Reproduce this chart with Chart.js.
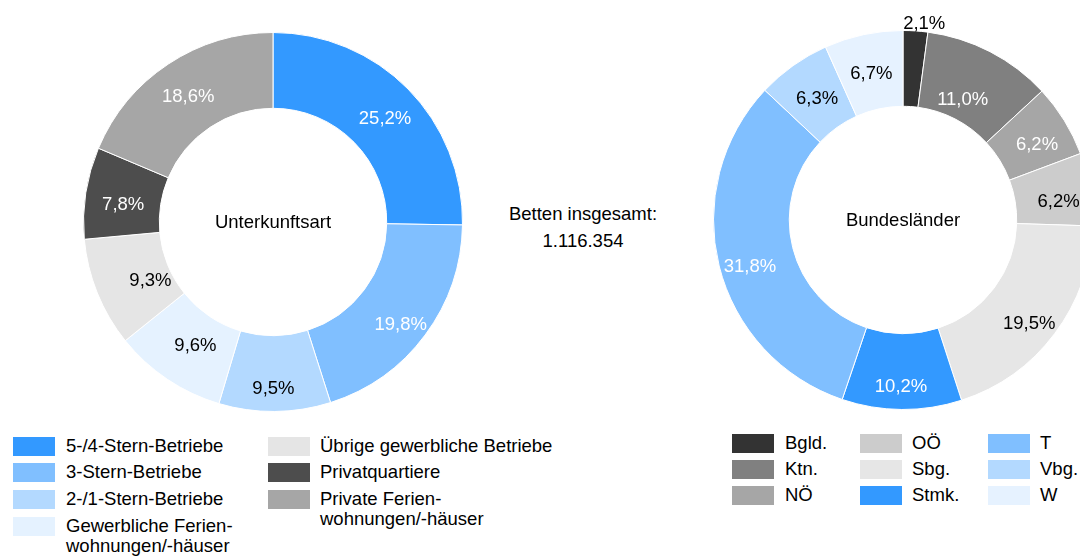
<!DOCTYPE html>
<html>
<head>
<meta charset="utf-8">
<script src="https://cdn.jsdelivr.net/npm/chart.js@4/dist/chart.umd.min.js"></script>
<style>
  html, body { margin: 0; padding: 0; background: #fff; }
  body { width: 1080px; height: 556px; position: relative; overflow: hidden;
         font-family: "Liberation Sans", Arial, sans-serif; color: #000; }
  .chartBox { position: absolute; width: 420px; height: 420px; }
  .total { position: absolute; left: 483px; top: 200px; width: 200px; text-align: center;
           font-size: 18.5px; line-height: 27px; }
  .leg { position: absolute; font-size: 18.5px; line-height: 20px; }
  .leg .sw { position: absolute; width: 42px; height: 19px; }
  .leg .tx { position: absolute; white-space: nowrap; }
</style>
</head>
<body>
<div class="chartBox" style="left:63px; top:12px;"><canvas id="typeChart" width="420" height="420"></canvas></div>
<div class="chartBox" style="left:693px; top:10px;"><canvas id="landChart" width="420" height="420"></canvas></div>
<div class="total">Betten insgesamt:<br>1.116.354</div>
<div id="typeLegend"></div>
<div id="landLegend"></div>

<script>
// Unterkunftsart
const typeLabels = ['5-/4-Stern-Betriebe', '3-Stern-Betriebe', '2-/1-Stern-Betriebe',
  'Gewerbliche Ferien-\nwohnungen/-häuser', 'Übrige gewerbliche Betriebe',
  'Privatquartiere', 'Private Ferien-\nwohnungen/-häuser'];
const typeValues = [25.2, 19.8, 9.5, 9.6, 9.3, 7.8, 18.6];

// Bundesländer
const landLabels = ['Bgld.', 'Ktn.', 'NÖ', 'OÖ', 'Sbg.', 'Stmk.', 'T', 'Vbg.', 'W'];
const landValues = [2.1, 11.0, 6.2, 6.2, 19.5, 10.2, 31.8, 6.3, 6.7];

const typeColors = ['#3399ff', '#80bfff', '#b3d9ff', '#e5f2ff', '#e5e5e5', '#4d4d4d', '#a6a6a6'];
const typeText = ['#fff', '#fff', '#000', '#000', '#000', '#fff', '#fff'];
const landColors = ['#333333', '#808080', '#a6a6a6', '#cccccc', '#e6e6e6', '#3399ff', '#80bfff', '#b3d9ff', '#e6f2ff'];
const landText = ['#000', '#fff', '#fff', '#000', '#000', '#fff', '#fff', '#000', '#000'];

// small nudges (px) of the value labels away from the ring's mid radius
const typeNudge = [[4, 3], [6, 12], [-1, 15], [7, -2], [18, 2], [0, 6], [-1, 1]];
const landNudge = [[0, 4], [-10, 15], [5, 5], [6, 7], [5, 13], [-1, 15], [-6, 10], [2, 2], [0, 2]];

const FONT = '18.5px "Liberation Sans", Arial, sans-serif';

const sliceLabels = {
  id: 'sliceLabels',
  afterDatasetsDraw(chart, args, opts) {
    const ctx = chart.ctx;
    const meta = chart.getDatasetMeta(0);
    const values = chart.data.datasets[0].data;
    ctx.save();
    ctx.font = FONT;
    ctx.textAlign = 'center';
    ctx.textBaseline = 'middle';
    meta.data.forEach((arc, i) => {
      const p = arc.getProps(['x', 'y', 'startAngle', 'endAngle', 'innerRadius', 'outerRadius'], true);
      const mid = (p.startAngle + p.endAngle) / 2;
      let r = (p.innerRadius + p.outerRadius) / 2;
      let color = opts.colors[i];
      let x, y;
      if (values[i] < 3) {
        // too small: put the label above the ring
        r = p.outerRadius + 11;
        color = '#000';
        x = p.x + Math.cos(mid) * r + 8;
        y = p.y + Math.sin(mid) * r;
      } else {
        x = p.x + Math.cos(mid) * r;
        y = p.y + Math.sin(mid) * r;
      }
      const n = opts.nudge[i];
      ctx.fillStyle = color;
      ctx.fillText(values[i].toFixed(1).replace('.', ',') + '%', x + n[0], y + n[1]);
    });
    // center caption
    ctx.fillStyle = '#000';
    const c = meta.data[0];
    ctx.fillText(opts.center, c.x, c.y + 1);
    ctx.restore();
  }
};

function makeDonut(id, labels, values, colors, textColors, nudge, center) {
  return new Chart(document.getElementById(id), {
    type: 'doughnut',
    data: {
      labels: labels,
      datasets: [{
        data: values,
        backgroundColor: colors,
        borderColor: '#ffffff',
        borderWidth: 1
      }]
    },
    options: {
      responsive: false,
      animation: false,
      cutout: '60%',
      layout: { padding: 20 },
      plugins: {
        legend: { display: false },
        tooltip: { enabled: false },
        sliceLabels: { colors: textColors, nudge: nudge, center: center }
      }
    },
    plugins: [sliceLabels]
  });
}

makeDonut('typeChart', typeLabels, typeValues, typeColors, typeText, typeNudge, 'Unterkunftsart');
makeDonut('landChart', landLabels, landValues, landColors, landText, landNudge, 'Bundesländer');

function buildLegend(el, labels, colors, cols, rowTops) {
  labels.forEach((lab, i) => {
    const col = cols[Math.floor(i / rowTops.length)];
    const top = rowTops[i % rowTops.length];
    const item = document.createElement('div');
    item.className = 'leg';
    item.style.left = col + 'px';
    item.style.top = top + 'px';
    const sw = document.createElement('div');
    sw.className = 'sw';
    sw.style.background = colors[i];
    const tx = document.createElement('div');
    tx.className = 'tx';
    tx.style.left = (col === cols[0] ? 53 : 52) + 'px';
    tx.style.top = '-1.5px';
    tx.innerHTML = lab.replace('\n', '<br>');
    item.appendChild(sw);
    item.appendChild(tx);
    el.appendChild(item);
  });
}

buildLegend(document.getElementById('typeLegend'), typeLabels, typeColors, [13, 268], [437, 463, 490, 517]);
buildLegend(document.getElementById('landLegend'), landLabels, landColors, [732, 860, 988], [434, 460, 486]);
</script>
</body>
</html>
